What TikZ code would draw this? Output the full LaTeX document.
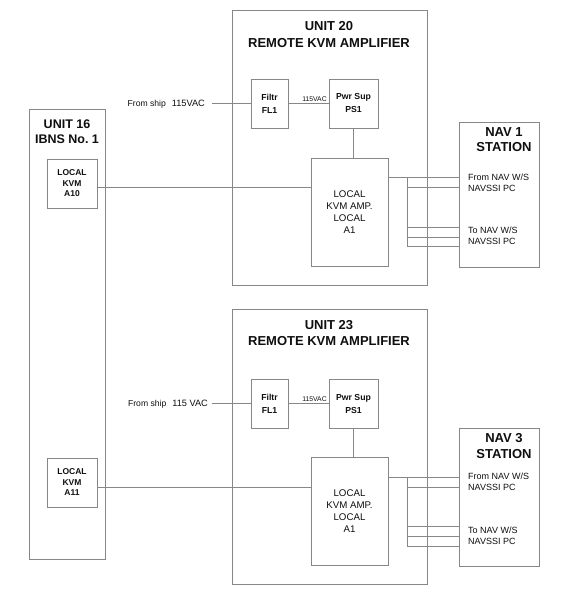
\documentclass[tikz,border=0pt]{standalone}
\usepackage{fontspec}
\setmainfont{Liberation Sans}
\usetikzlibrary{positioning,calc}
\definecolor{linegray}{RGB}{135,135,135}
\definecolor{textgray}{RGB}{15,15,15}
\tikzset{
	wire/.style={
		draw=linegray,
		line width=0.8pt
	},
	unitbox/.style={
		draw=linegray,
		line width=1pt,
		inner sep=0pt,
		minimum width=195pt,
		minimum height=275pt
	},
	unittitle/.style={
		text=textgray,
		inner sep=0pt,
		align=center,
		font=\bfseries\fontsize{13}{16.5}\selectfont
	},
	partbox/.style={
		draw=linegray,
		line width=1pt,
		inner sep=0pt,
		text=textgray,
		align=center,
		minimum height=49pt,
		font=\bfseries\fontsize{8.7}{13}\selectfont
	},
	kvmbox/.style={
		partbox,
		minimum width=50pt,
		font=\bfseries\fontsize{8.5}{10.5}\selectfont
	},
	ampbox/.style={
		partbox,
		minimum width=77pt,
		minimum height=108pt,
		font=\fontsize{9.7}{12}\selectfont
	},
	navtext/.style={
		text=textgray,
		inner sep=0pt,
		align=left,
		anchor=west,
		font=\fontsize{9}{11}\selectfont
	},
	vaclabel/.style={
		text=textgray,
		inner sep=0pt,
		above=2pt,
		font=\fontsize{6.8}{8}\selectfont
	},
	shiptext/.style={
		text=textgray,
		inner sep=0pt,
		anchor=east,
		font=\fontsize{8.6}{10}\selectfont
	}
}

\begin{document}
\begin{tikzpicture}[x=1pt,y=-1pt]
	\useasboundingbox[fill=white] (0,0) rectangle (576,600);
	%%%%% UNIT 16
	\node[unitbox, minimum width=76pt, minimum height=450pt] (u16) at (67,334) {};
	\node[unittitle, font=\bfseries\fontsize{12.5}{15}\selectfont] (u16t) at (67,131.5) {UNIT 16\\IBNS No.\ 1};
	\node[kvmbox] (a10) at (72,183.5) {LOCAL\\KVM\\A10};
	\node[kvmbox] (a11) at (72,482.5) {LOCAL\\KVM\\A11};

	%%%%% UNIT 20
	\node[unitbox] (u20) at (329.5,147.5) {};
	\node[unittitle] (u20t) at (329,34.5) {UNIT 20\\REMOTE KVM AMPLIFIER};
	\node[partbox, minimum width=37pt] (fl20) at (269.5,103.5) {Filtr\\FL1};
	\node[partbox, minimum width=49pt] (ps20) at (353.5,103.5) {Pwr Sup\\PS1};
	\node[ampbox] (a1u20) at (349.5,212) {LOCAL\\KVM AMP.\\LOCAL\\A1};
	\node[shiptext] (ship20) at (205,104) {From ship\hspace{6pt}{\fontsize{9.2}{11}\selectfont 115VAC}};
	\draw[wire, shorten <=7pt] (ship20.east |- fl20.west) -- (fl20.west);
	\draw[wire] (fl20) -- node[vaclabel, pos=0.65] {115VAC} (ps20);
	\draw[wire] (ps20.south) -- (ps20.south |- a1u20.north);
	\coordinate (k10) at ([yshift=-3.5pt]a10.east);
	\draw[wire] (k10) -- (k10 -| a1u20.west);

	% NAV 1
	\node[unitbox, minimum width=80pt, minimum height=145pt] (nav1) at (499,194.5) {};
	\node[unittitle, font=\bfseries\fontsize{13}{15}\selectfont] (nav1t) at (504,140) {NAV 1\\STATION};
	\node[navtext] (nav1from) at (468,182.5) {From NAV W/S\\NAVSSI PC};
	\node[navtext] (nav1to) at (468,236) {To NAV W/S\\NAVSSI PC};
	\coordinate (tap20) at (407,177);
	\coordinate (tap20b) at (407,187);
	\coordinate (tap20c) at (407,227);
	\coordinate (tap20d) at (407,237);
	\coordinate (tap20e) at (407,246);
	\draw[wire] (a1u20.east |- tap20) -- (tap20 -| nav1.west);
	\draw[wire] (tap20) -- (tap20e);
	\draw[wire] (tap20b) -- (tap20b -| nav1.west);
	\draw[wire] (tap20c) -- (tap20c -| nav1.west);
	\draw[wire] (tap20d) -- (tap20d -| nav1.west);
	\draw[wire] (tap20e) -- (tap20e -| nav1.west);

	%%%%% UNIT 23
	\node[unitbox] (u23) at (329.5,446.5) {};
	\node[unittitle] (u23t) at (329,333) {UNIT 23\\REMOTE KVM AMPLIFIER};
	\node[partbox, minimum width=37pt] (fl23) at (269.5,403.5) {Filtr\\FL1};
	\node[partbox, minimum width=49pt] (ps23) at (353.5,403.5) {Pwr Sup\\PS1};
	\node[ampbox] (a1u23) at (349.5,511) {LOCAL\\KVM AMP.\\LOCAL\\A1};
	\node[shiptext] (ship23) at (208,404) {From ship\hspace{6pt}{\fontsize{9.2}{11}\selectfont 115 VAC}};
	\draw[wire, shorten <=4pt] (ship23.east |- fl23.west) -- (fl23.west);
	\draw[wire] (fl23) -- node[vaclabel, pos=0.65] {115VAC} (ps23);
	\draw[wire] (ps23.south) -- (ps23.south |- a1u23.north);
	\coordinate (k11) at ([yshift=-4.5pt]a11.east);
	\draw[wire] (k11) -- (k11 -| a1u23.west);

	% NAV 3
	\node[unitbox, minimum width=80pt, minimum height=138pt] (nav3) at (499,497) {};
	\node[unittitle, font=\bfseries\fontsize{13}{16}\selectfont] (nav3t) at (504,446) {NAV 3\\STATION};
	\node[navtext] (nav3from) at (468,481.5) {From NAV W/S\\NAVSSI PC};
	\node[navtext] (nav3to) at (468,535.5) {To NAV W/S\\NAVSSI PC};
	\coordinate (tap23) at (407,477);
	\coordinate (tap23b) at (407,487);
	\coordinate (tap23c) at (407,526);
	\coordinate (tap23d) at (407,536);
	\coordinate (tap23e) at (407,546);
	\draw[wire] (a1u23.east |- tap23) -- (tap23 -| nav3.west);
	\draw[wire] (tap23) -- (tap23e);
	\draw[wire] (tap23b) -- (tap23b -| nav3.west);
	\draw[wire] (tap23c) -- (tap23c -| nav3.west);
	\draw[wire] (tap23d) -- (tap23d -| nav3.west);
	\draw[wire] (tap23e) -- (tap23e -| nav3.west);
\end{tikzpicture}
\end{document}
